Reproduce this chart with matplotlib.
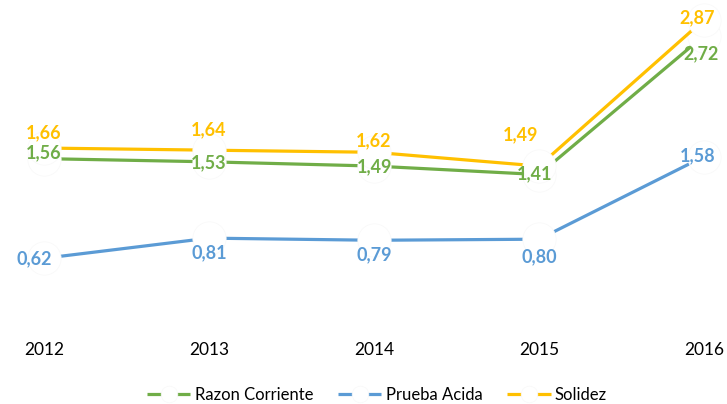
import matplotlib.pyplot as plt

years = ['2012', '2013', '2014', '2015', '2016']
razon_corriente = [1.56, 1.53, 1.49, 1.41, 2.72]
prueba_acida = [0.62, 0.81, 0.79, 0.80, 1.58]
solidez = [1.66, 1.64, 1.62, 1.49, 2.87]

series = [
    ('Razon Corriente', razon_corriente, '#70AD47'),
    ('Prueba Acida', prueba_acida, '#5B9BD5'),
    ('Solidez', solidez, '#FFC000'),
]

# label offsets in pixels (dx, dy up), hand-placed like the original
label_offsets = {
    'Razon Corriente': [(0, 6), (0, -1), (0, -1), (-4, 1), (-3, -18)],
    'Prueba Acida': [(-10, 0), (0, -15), (0, -14), (0, -18), (-6, 1)],
    'Solidez': [(0, 15), (0, 20), (0, 12), (-19, 31), (-7, 2)],
}

plt.rcParams['font.family'] = ['Lato', 'DejaVu Sans']

fig = plt.figure(figsize=(7.27, 4.04), dpi=100)
ax = fig.add_axes([0, 80 / 404, 1, 324 / 404])

x = list(range(len(years)))
for name, vals, col in series:
    ax.plot(x, vals, color=col, linewidth=2.3, marker='o', markersize=24,
            markerfacecolor='white', markeredgecolor='#f8f8f8',
            markeredgewidth=0.5, label=name, solid_capstyle='butt')

for name, vals, col in series:
    for i, v in enumerate(vals):
        dx, dy = label_offsets[name][i]
        ax.annotate(f'{v:.2f}'.replace('.', ','), (i, v),
                    xytext=(dx * 0.72, dy * 0.72), textcoords='offset points',
                    ha='center', va='center', color=col, fontsize=13,
                    fontweight='bold', zorder=10)

ax.set_xlim(-44 / 165, (727 - 44) / 165)
ax.set_ylim(0, 324 / 106)
ax.set_yticks([])
ax.set_xticks(x)
ax.set_xticklabels(years, fontsize=12.5)
ax.tick_params(axis='x', length=0, pad=13)
for s in ax.spines.values():
    s.set_visible(False)

leg = fig.legend(loc='center', bbox_to_anchor=(377 / 727, 1 - 395 / 404),
                 ncol=3, frameon=False, markerscale=0.5, handlelength=2.6,
                 handletextpad=0.25, columnspacing=1.5,
                 prop={'size': 12})

fig.savefig('out.png', dpi=100)
